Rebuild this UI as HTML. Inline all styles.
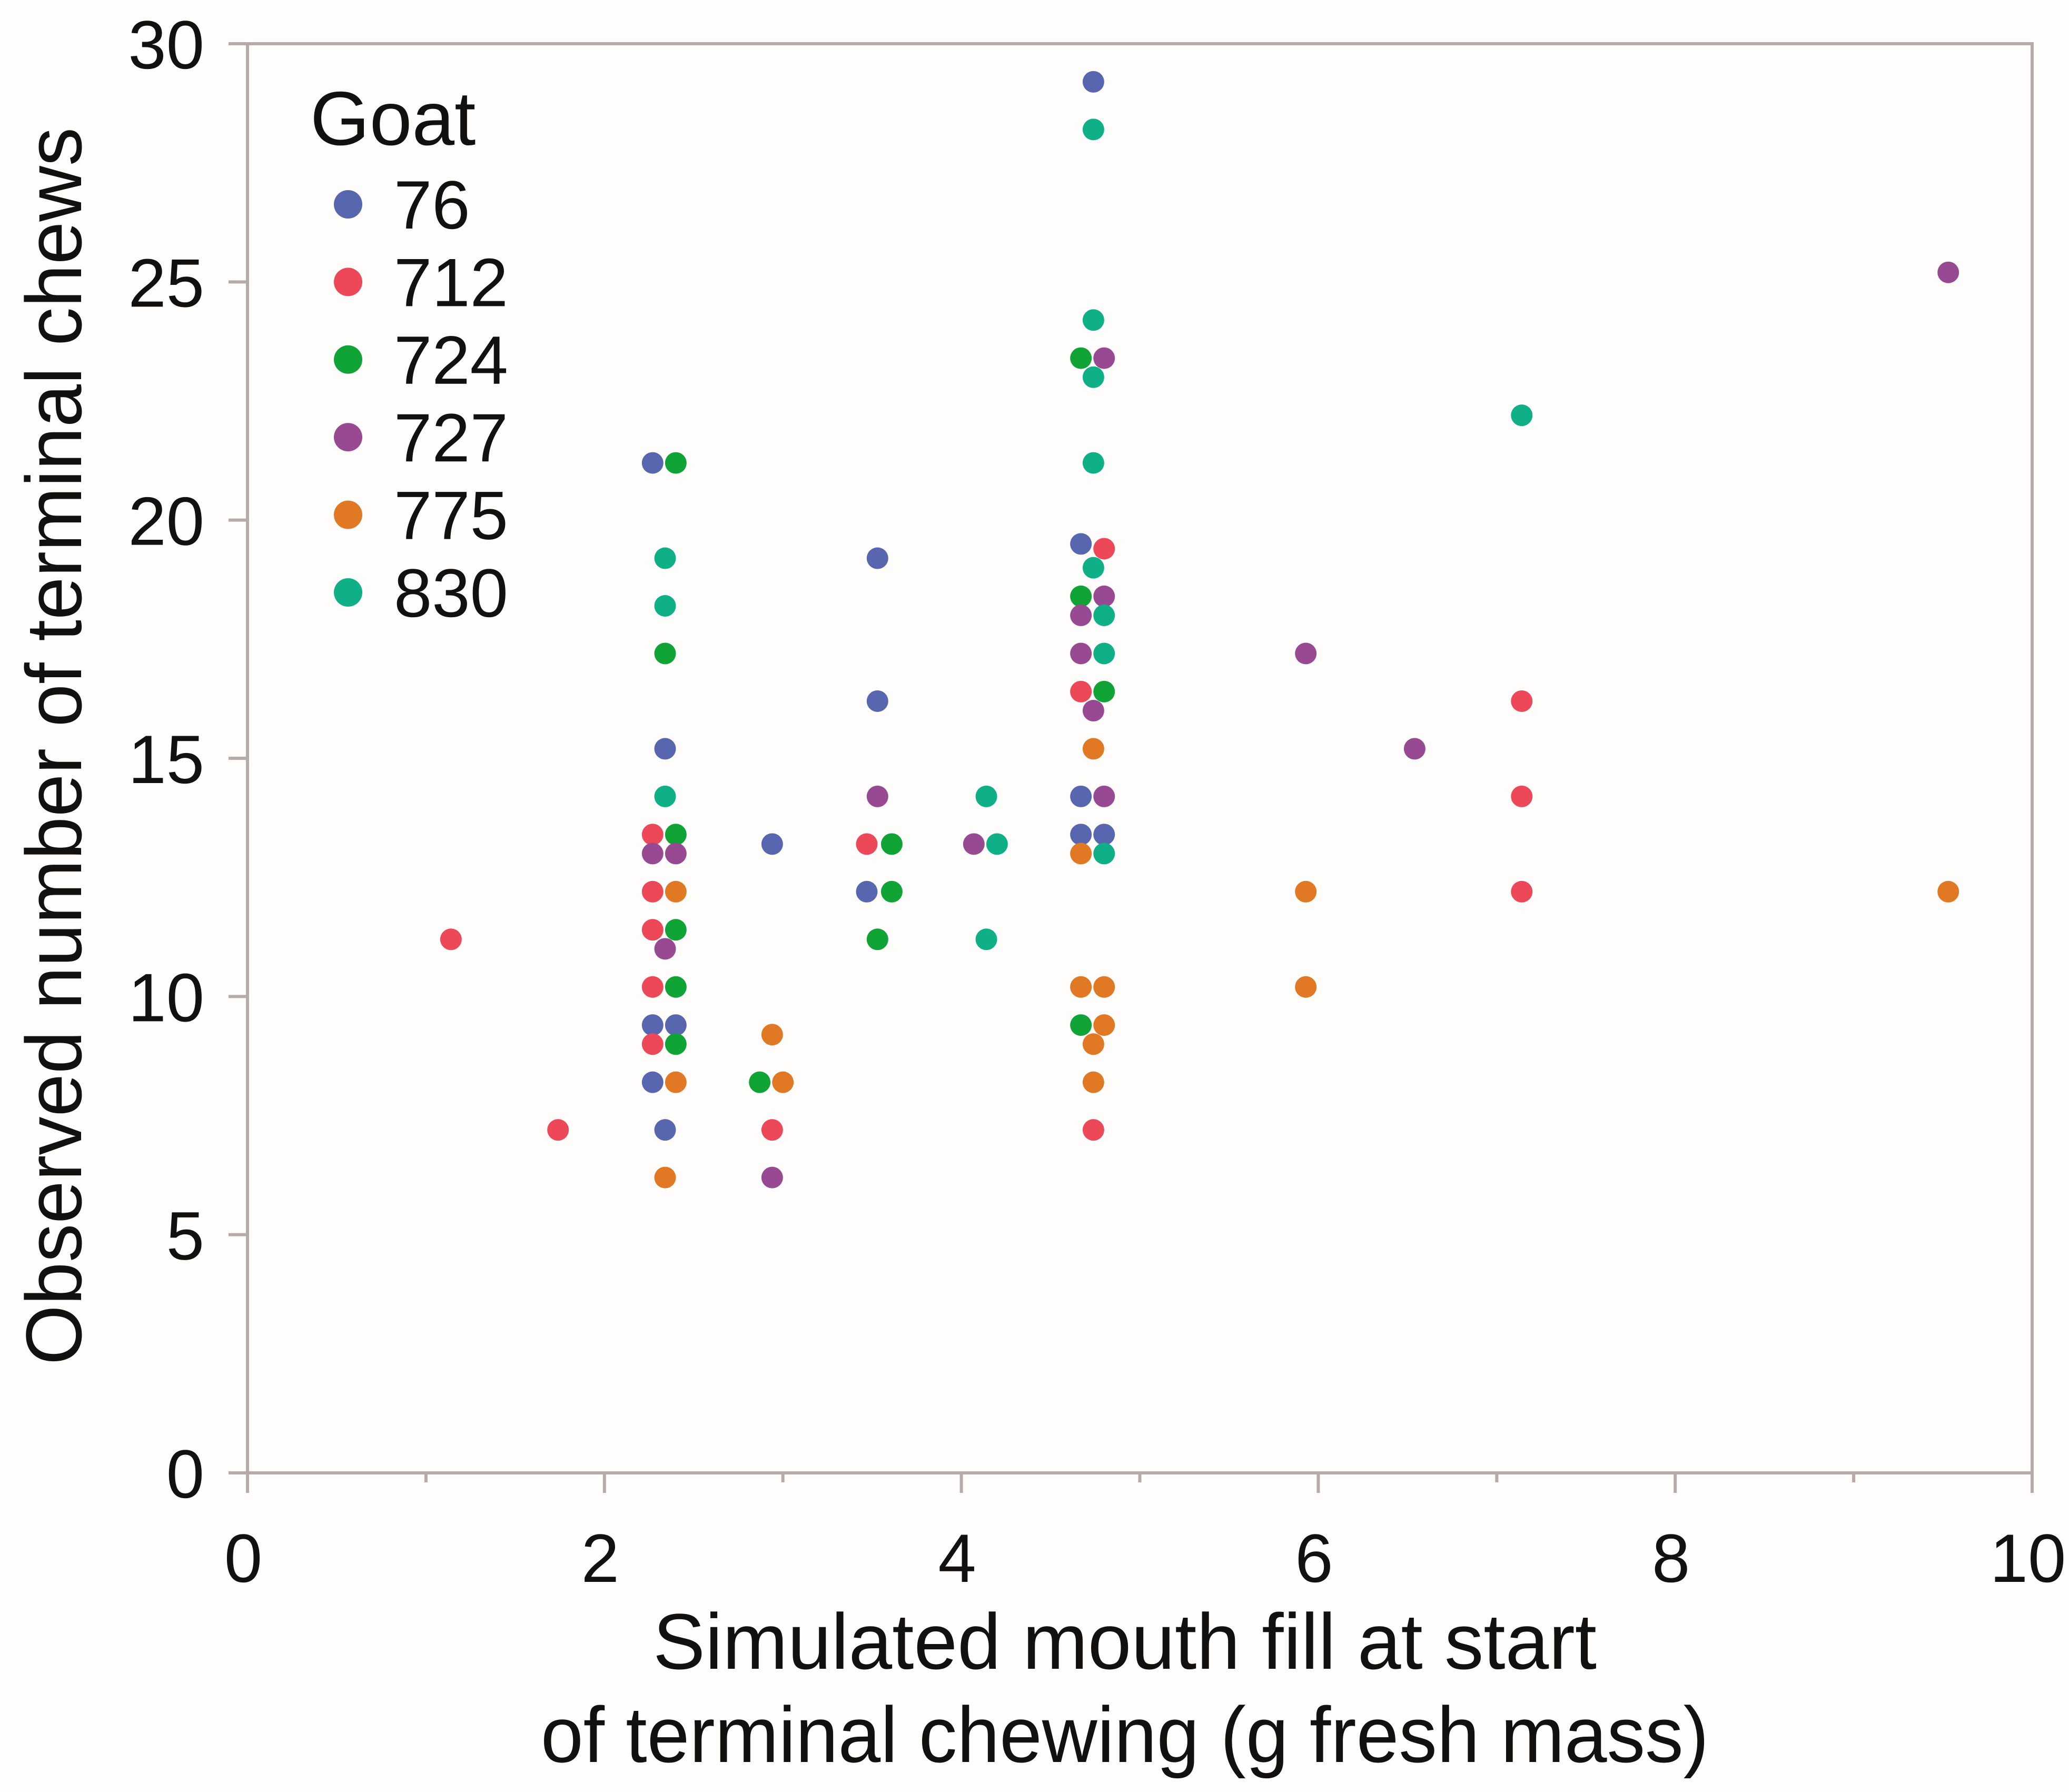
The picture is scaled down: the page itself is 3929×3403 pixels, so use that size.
<!DOCTYPE html>
<html><head><meta charset="utf-8"><style>
html,body{margin:0;padding:0;background:#fffdfc;}
svg{display:block;font-family:"Liberation Sans","DejaVu Sans",sans-serif;}
</style></head><body>
<svg id="chart" width="3929" height="3403" viewBox="0 0 3929 3403" xmlns="http://www.w3.org/2000/svg">
<rect x="0" y="0" width="3929" height="3403" fill="#fffdfc"/>
<g id="axes"></g>
<g id="dots"></g>
<g id="legend"></g>
<text transform="translate(154,1417) rotate(-90)" text-anchor="middle" font-size="150" textLength="2350" lengthAdjust="spacingAndGlyphs" fill="#111">Observed number of terminal chews</text>
<text x="2136" y="3169" text-anchor="middle" font-size="150" textLength="1792" lengthAdjust="spacingAndGlyphs" fill="#111">Simulated mouth fill at start</text>
<text x="2136" y="3346" text-anchor="middle" font-size="150" textLength="2218" lengthAdjust="spacingAndGlyphs" fill="#111">of terminal chewing (g fresh mass)</text>
</svg>
<script>
const seriesNames = ["76","712","724","727","775","830"];
const seriesColors = ["#5766ae","#ec4858","#10a335","#974a92","#e07824","#0fb088"];
const xTicks = [0,2,4,6,8,10];
const yTicks = [0,5,10,15,20,25,30];
const s76x = [2.27,2.34,3.53,3.53,2.94,3.47,4.67,4.74,4.67,4.67,4.80,2.27,2.40,2.27,2.34];
const s76y = [21.2,15.2,19.2,16.2,13.2,12.2,19.5,29.2,14.2,13.4,13.4,9.4,9.4,8.2,7.2];
const s712x = [1.14,1.74,2.27,2.27,2.27,2.27,2.27,2.94,3.47,4.67,4.80,4.74,7.14,7.14,7.14];
const s712y = [11.2,7.2,13.4,12.2,11.4,10.2,9.0,7.2,13.2,16.4,19.4,7.2,16.2,14.2,12.2];
const s724x = [2.40,2.34,2.40,2.40,2.40,2.40,2.87,3.61,3.61,3.53,4.67,4.67,4.80,4.67];
const s724y = [21.2,17.2,13.4,11.4,10.2,9.0,8.2,13.2,12.2,11.2,23.4,18.4,16.4,9.4];
const s727x = [2.27,2.40,2.34,2.94,3.53,4.07,4.80,4.80,4.67,4.67,4.74,4.80,5.93,6.54,9.53];
const s727y = [13.0,13.0,11.0,6.2,14.2,13.2,23.4,18.4,18.0,17.2,16.0,14.2,17.2,15.2,25.2];
const s775x = [2.40,2.40,2.34,2.94,3.00,4.74,4.67,4.67,4.80,4.80,4.74,4.74,5.93,5.93,9.53];
const s775y = [12.2,8.2,6.2,9.2,8.2,15.2,13.0,10.2,10.2,9.4,9.0,8.2,12.2,10.2,12.2];
const s830x = [2.34,2.34,2.34,4.14,4.20,4.14,4.74,4.74,4.74,4.74,4.74,4.80,4.80,4.80,7.14];
const s830y = [19.2,18.2,14.2,14.2,13.2,11.2,28.2,24.2,23.0,21.2,19.0,18.0,17.2,13.0,22.2];
const allX=[s76x,s712x,s724x,s727x,s775x,s830x];
const allY=[s76y,s712y,s724y,s727y,s775y,s830y];

const NS="http://www.w3.org/2000/svg";
const L=470,R=3859,T=83,B=2797,XMAX=10,YMAX=30;
function sx(v){return L+(R-L)*v/XMAX;}
function sy(v){return B-(B-T)*v/YMAX;}
function mk(tag,attrs,parent){const e=document.createElementNS(NS,tag);for(const k in attrs)e.setAttribute(k,attrs[k]);parent.appendChild(e);return e;}
const ax=document.getElementById('axes');
const AC="#b6aba7";
let fr=mk('rect',{x:L,y:T,width:R-L,height:B-T,fill:"none",stroke:AC,"stroke-width":6},ax);


for(let v=0;v<=XMAX;v++){
  const major=v%2===0;
  const t=mk('line',{x1:sx(v),x2:sx(v),y1:B,y2:B+(major?38:18),stroke:AC,"stroke-width":6},ax);
  
  
}
xTicks.forEach(v=>{
  const t=mk('text',{x:sx(v)-8,y:3004,"text-anchor":"middle","font-size":130,fill:"#111"},ax);
  t.textContent=v;
  
  
});
yTicks.forEach(v=>{
  const t=mk('line',{x1:L-36,x2:L,y1:sy(v),y2:sy(v),stroke:AC,"stroke-width":6},ax);
  
  
  const l=mk('text',{x:388,y:sy(v)+47,"text-anchor":"end","font-size":130,fill:"#111"},ax);
  l.textContent=v;
  
  
});
const dg=document.getElementById('dots');
allX.forEach((xs,si)=>{
  xs.forEach((xv,i)=>{
    const c=mk('circle',{cx:sx(xv),cy:sy(allY[si][i]),r:20.5,fill:seriesColors[si]},dg);
    
    
  });
});
const lg=document.getElementById('legend');
const lt=mk('text',{x:589,y:275,"font-size":145,fill:"#111"},lg);
lt.textContent="Goat";


seriesNames.forEach((n,i)=>{
  const cy=388+i*147.4;
  const c=mk('circle',{cx:661,cy:cy,r:27,fill:seriesColors[i]},lg);
  
  
  const t=mk('text',{x:748,y:cy+46,"font-size":130,fill:"#111"},lg);
  t.textContent=n;
  
  
});
</script>
</body></html>
